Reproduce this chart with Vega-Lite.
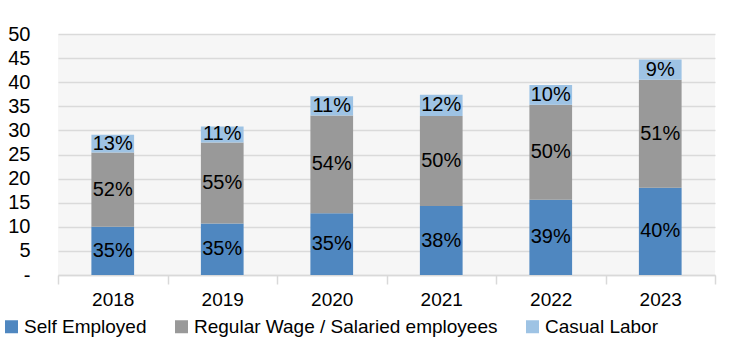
{
  "$schema": "https://vega.github.io/schema/vega-lite/v6.json",
  "width": 657,
  "height": 241,
  "autosize": "none",
  "padding": {"left": 58, "top": 34, "right": 25, "bottom": 80},
  "background": "white",
  "config": {
    "font": "Liberation Sans",
    "view": {"stroke": null, "fill": "#f6f6f6"}
  },
  "data": {
    "values": [
      {"year": "2018", "cat": "Self Employed", "value": 10.0, "label": "35%"},
      {"year": "2018", "cat": "Regular Wage / Salaried employees", "value": 15.4, "label": "52%"},
      {"year": "2018", "cat": "Casual Labor", "value": 3.7, "label": "13%"},
      {"year": "2019", "cat": "Self Employed", "value": 10.7, "label": "35%"},
      {"year": "2019", "cat": "Regular Wage / Salaried employees", "value": 16.8, "label": "55%"},
      {"year": "2019", "cat": "Casual Labor", "value": 3.3, "label": "11%"},
      {"year": "2020", "cat": "Self Employed", "value": 12.8, "label": "35%"},
      {"year": "2020", "cat": "Regular Wage / Salaried employees", "value": 20.3, "label": "54%"},
      {"year": "2020", "cat": "Casual Labor", "value": 4.0, "label": "11%"},
      {"year": "2021", "cat": "Self Employed", "value": 14.3, "label": "38%"},
      {"year": "2021", "cat": "Regular Wage / Salaried employees", "value": 18.7, "label": "50%"},
      {"year": "2021", "cat": "Casual Labor", "value": 4.4, "label": "12%"},
      {"year": "2022", "cat": "Self Employed", "value": 15.6, "label": "39%"},
      {"year": "2022", "cat": "Regular Wage / Salaried employees", "value": 19.7, "label": "50%"},
      {"year": "2022", "cat": "Casual Labor", "value": 4.1, "label": "10%"},
      {"year": "2023", "cat": "Self Employed", "value": 18.1, "label": "40%"},
      {"year": "2023", "cat": "Regular Wage / Salaried employees", "value": 22.4, "label": "51%"},
      {"year": "2023", "cat": "Casual Labor", "value": 4.2, "label": "9%"}
    ]
  },
  "transform": [
    {"stack": "value", "groupby": ["year"], "sort": [{"field": "cat", "order": "descending"}], "as": ["y0", "y1"]},
    {"calculate": "(datum.y0 + datum.y1) / 2", "as": "ymid"}
  ],
  "encoding": {
    "x": {
      "field": "year", "type": "nominal", "title": null,
      "scale": {"paddingInner": 0, "paddingOuter": 0},
      "axis": {
        "labelAngle": 0, "labelFontSize": 19, "labelColor": "black",
        "tickBand": "extent", "tickSize": 9, "tickColor": "#d9d9d9", "tickWidth": 1.5,
        "domainColor": "#d9d9d9", "domainWidth": 1.5, "labelPadding": 6, "grid": false
      }
    }
  },
  "layer": [
    {
      "mark": {"type": "bar", "width": {"band": 0.39}},
      "encoding": {
        "y": {
          "field": "y1", "type": "quantitative", "title": null,
          "scale": {"domain": [0, 50]},
          "axis": {
            "values": [0, 5, 10, 15, 20, 25, 30, 35, 40, 45, 50],
            "labelExpr": "datum.value == 0 ? '-' : datum.label",
            "labelOverlap": false,
            "labelFontSize": 20, "labelColor": "black", "ticks": false, "domain": false,
            "labelPadding": 28, "gridColor": "#dadada", "gridWidth": 1.5
          }
        },
        "y2": {"field": "y0"},
        "color": {
          "field": "cat", "type": "nominal",
          "scale": {
            "domain": ["Self Employed", "Regular Wage / Salaried employees", "Casual Labor"],
            "range": ["#4f87c0", "#999999", "#9ec3e4"]
          },
          "legend": {
            "title": null, "orient": "none", "direction": "horizontal",
            "legendX": -56, "legendY": 283,
            "labelFontSize": 19, "labelColor": "black", "labelLimit": 0,
            "symbolType": "square", "symbolSize": 169, "symbolStrokeWidth": 0,
            "columnPadding": 25, "labelOffset": 3
          }
        }
      }
    },
    {
      "mark": {"type": "text", "fontSize": 20, "color": "black", "baseline": "middle"},
      "encoding": {
        "y": {
          "field": "ymid", "type": "quantitative",
          "axis": {
            "values": [0, 5, 10, 15, 20, 25, 30, 35, 40, 45, 50],
            "labelExpr": "datum.value == 0 ? '-' : datum.label",
            "labelOverlap": false,
            "labelFontSize": 20, "labelColor": "black", "ticks": false, "domain": false,
            "labelPadding": 28, "gridColor": "#dadada", "gridWidth": 1.5
          }
        },
        "text": {"field": "label"}
      }
    }
  ]
}
